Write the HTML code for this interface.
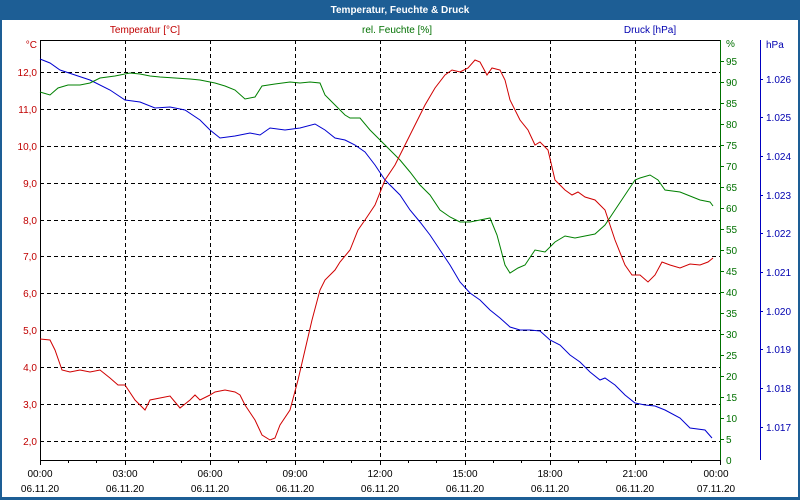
<!DOCTYPE html>
<html><head><meta charset="utf-8"><style>
html,body{margin:0;padding:0;background:#fff;}
svg{display:block;font-family:"Liberation Sans",sans-serif;}
</style></head><body>
<svg width="800" height="500" viewBox="0 0 800 500" xmlns="http://www.w3.org/2000/svg">
<rect x="0" y="0" width="800" height="500" fill="#1d5e95"/>
<rect x="2" y="20" width="796" height="477" fill="#fff"/>
<text x="400" y="13" font-size="10" font-weight="bold" fill="#fff" text-anchor="middle">Temperatur, Feuchte &amp; Druck</text>
<text x="145" y="33" font-size="10" fill="#c00000" text-anchor="middle">Temperatur [°C]</text>
<text x="397" y="33" font-size="10" fill="#007000" text-anchor="middle">rel. Feuchte [%]</text>
<text x="650" y="33" font-size="10" fill="#0000b0" text-anchor="middle">Druck [hPa]</text>
<g stroke="#000" stroke-width="1" stroke-dasharray="4,3" fill="none">
<path d="M40,72.5H720M40,109.5H720M40,146.5H720M40,183.5H720M40,220.5H720M40,256.5H720M40,293.5H720M40,330.5H720M40,367.5H720M40,404.5H720M40,441.5H720"/>
<path d="M125.5,40V460M210.5,40V460M295.5,40V460M380.5,40V460M465.5,40V460M550.5,40V460M635.5,40V460"/>
</g>
<path d="M40.5,40V460.5H720M40,40.5H720" stroke="#000" fill="none"/>
<g stroke="#000"><path d="M40.5,460v5M68.5,460v3M96.5,460v3M125.5,460v5M153.5,460v3M181.5,460v3M210.5,460v5M238.5,460v3M266.5,460v3M295.5,460v5M323.5,460v3M351.5,460v3M380.5,460v5M408.5,460v3M436.5,460v3M465.5,460v5M493.5,460v3M521.5,460v3M550.5,460v5M578.5,460v3M606.5,460v3M635.5,460v5M663.5,460v3M691.5,460v3M720.5,460v5"/></g>
<g font-size="10" fill="#000" text-anchor="middle">
<text x="40" y="477">00:00</text><text x="125" y="477">03:00</text><text x="210" y="477">06:00</text><text x="295" y="477">09:00</text><text x="380" y="477">12:00</text><text x="465" y="477">15:00</text><text x="550" y="477">18:00</text><text x="635" y="477">21:00</text><text x="716" y="477">00:00</text>
<text x="40" y="492">06.11.20</text><text x="125" y="492">06.11.20</text><text x="210" y="492">06.11.20</text><text x="295" y="492">06.11.20</text><text x="380" y="492">06.11.20</text><text x="465" y="492">06.11.20</text><text x="550" y="492">06.11.20</text><text x="635" y="492">06.11.20</text><text x="716" y="492">07.11.20</text>
</g>
<g font-size="10" fill="#c00000" text-anchor="end">
<text x="37" y="48">°C</text>
<text x="37" y="76">12,0</text><text x="37" y="113">11,0</text><text x="37" y="150">10,0</text><text x="37" y="187">9,0</text><text x="37" y="224">8,0</text><text x="37" y="260">7,0</text><text x="37" y="297">6,0</text><text x="37" y="334">5,0</text><text x="37" y="371">4,0</text><text x="37" y="408">3,0</text><text x="37" y="445">2,0</text>
</g>
<path d="M720.5,40V460" stroke="#007000"/>
<g stroke="#007000"><path d="M720,439.5h4M720,418.5h4M720,397.5h4M720,376.5h4M720,355.5h4M720,334.5h4M720,313.5h4M720,292.5h4M720,271.5h4M720,250.5h4M720,229.5h4M720,208.5h4M720,187.5h4M720,166.5h4M720,145.5h4M720,124.5h4M720,103.5h4M720,82.5h4M720,61.5h4"/></g>
<g font-size="10" fill="#007000">
<text x="726" y="47">%</text>
<text x="726" y="65">95</text><text x="726" y="86">90</text><text x="726" y="107">85</text><text x="726" y="128">80</text><text x="726" y="149">75</text><text x="726" y="170">70</text><text x="726" y="191">65</text><text x="726" y="212">60</text><text x="726" y="233">55</text><text x="726" y="254">50</text><text x="726" y="275">45</text><text x="726" y="296">40</text><text x="726" y="317">35</text><text x="726" y="338">30</text><text x="726" y="359">25</text><text x="726" y="380">20</text><text x="726" y="401">15</text><text x="726" y="422">10</text><text x="726" y="443">5</text><text x="726" y="464">0</text>
</g>
<path d="M760.5,40V460" stroke="#0000c0"/>
<g stroke="#0000c0"><path d="M760,79.5h3M760,117.5h3M760,156.5h3M760,195.5h3M760,233.5h3M760,272.5h3M760,311.5h3M760,349.5h3M760,388.5h3M760,427.5h3"/></g>
<g font-size="10" fill="#0000b0">
<text x="766" y="48">hPa</text>
<text x="766" y="83">1.026</text><text x="766" y="121">1.025</text><text x="766" y="160">1.024</text><text x="766" y="199">1.023</text><text x="766" y="237">1.022</text><text x="766" y="276">1.021</text><text x="766" y="315">1.020</text><text x="766" y="353">1.019</text><text x="766" y="392">1.018</text><text x="766" y="431">1.017</text>
</g>
<polyline fill="none" stroke="#0000d0" stroke-width="1" points="40,59 50,63 60,70 75,75 90,80 110,90 125,100 140,102 155,108 170,107 185,110 200,120 210,130 220,138 235,136 250,133 260,135 270,128 285,130 300,128 315,124 325,130 335,138 345,140 355,145 365,152 375,165 385,180 400,195 410,210 420,222 430,235 440,250 450,265 460,282 470,293 480,300 490,310 500,318 510,327 520,330 530,330 540,331 550,340 560,345 570,355 580,362 590,372 600,380 605,378 615,385 625,395 635,403 645,405 655,406 665,410 680,418 690,428 705,430 712,438"/>
<polyline fill="none" stroke="#008000" stroke-width="1" points="40,92 50,95 58,88 68,85 80,85 90,83 100,78 115,76 130,73 140,74 150,76 160,77 175,78 190,79 200,80 215,83 225,86 235,90 245,99 255,97 262,86 275,84 290,82 300,83 310,82 320,83 325,95 335,105 345,115 350,118 360,118 370,130 380,140 390,150 400,160 410,172 420,185 430,195 440,210 450,217 460,222 470,222 480,220 490,218 497,235 505,265 510,273 518,268 525,265 535,250 545,252 555,242 565,236 575,238 585,236 595,234 605,225 615,210 625,195 635,180 640,178 650,175 658,180 665,190 680,192 690,196 700,200 710,202 713,206"/>
<polyline fill="none" stroke="#d00000" stroke-width="1" points="40,339 50,340 55,350 62,370 70,372 80,370 90,372 100,370 110,378 118,385 125,385 135,400 145,410 150,400 160,398 170,396 175,402 180,408 190,400 195,395 200,400 210,395 215,392 225,390 235,392 240,395 245,405 255,420 262,435 270,440 275,438 280,425 290,410 298,380 305,350 312,320 320,290 325,280 335,270 340,262 350,250 358,230 365,220 375,205 385,180 395,165 405,145 415,125 425,105 435,88 445,75 452,70 460,72 468,68 475,60 480,62 487,75 492,68 500,70 505,80 510,100 520,120 528,130 535,145 540,142 548,150 555,180 560,185 565,190 572,195 578,192 585,197 595,200 605,210 615,240 625,265 632,275 640,275 648,282 655,275 662,262 670,265 680,268 690,264 700,265 708,262 713,258"/>
</svg>
</body></html>
